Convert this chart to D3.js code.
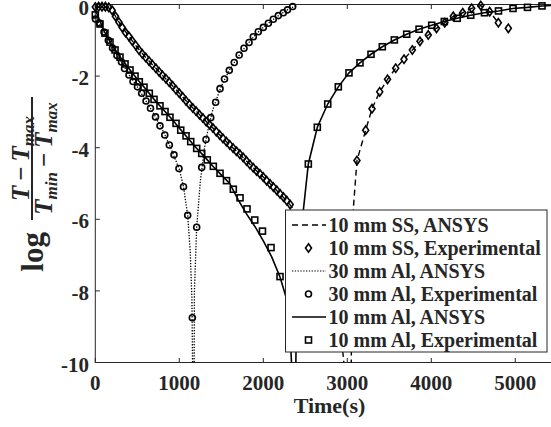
<!DOCTYPE html>
<html>
<head>
<meta charset="utf-8">
<script src="https://cdn.jsdelivr.net/npm/d3@7"></script>
<style>
  html, body { margin: 0; padding: 0; background: #fff; }
  svg { display: block; }
  text { font-family: "Liberation Serif", "Times New Roman", serif; font-weight: bold; fill: #262626; }
</style>
</head>
<body>
<svg id="chart" width="551" height="427"></svg>
<script>
// ---------------- DATA ----------------
const xTickVals = [0, 1000, 2000, 3000, 4000, 5000];
const yTickVals = [0, -2, -4, -6, -8, -10];
const xLabel = "Time(s)";
const legendLabels = [
  "10 mm SS, ANSYS",
  "10 mm SS, Experimental",
  "30 mm Al, ANSYS",
  "30 mm Al, Experimental",
  "10 mm Al, ANSYS",
  "10 mm Al, Experimental"
];

// 10 mm SS experimental (diamonds) [time s, value]
const ssExp = [
  [0,-0.07],[40,-0.06],[80,-0.06],[120,-0.06],[160,-0.08],[200,-0.16],[240,-0.33],[280,-0.49],
  [320,-0.64],[360,-0.78],[400,-0.89],[440,-1.02],[480,-1.14],[520,-1.27],[560,-1.38],[600,-1.48],
  [640,-1.58],[680,-1.68],[720,-1.78],[760,-1.88],[800,-1.98],[840,-2.07],[880,-2.17],[920,-2.27],
  [960,-2.38],[1000,-2.48],[1040,-2.58],[1080,-2.69],[1120,-2.79],[1160,-2.89],[1200,-2.98],[1240,-3.08],
  [1280,-3.17],[1320,-3.27],[1360,-3.36],[1400,-3.45],[1440,-3.55],[1480,-3.64],[1520,-3.74],[1560,-3.83],
  [1600,-3.92],[1640,-4.01],[1680,-4.10],[1720,-4.18],[1760,-4.27],[1800,-4.37],[1840,-4.47],[1880,-4.56],
  [1920,-4.65],[1960,-4.73],[2000,-4.82],[2040,-4.92],[2080,-5.01],[2120,-5.10],[2160,-5.19],[2200,-5.29],
  [2240,-5.38],[2280,-5.48],[2320,-5.59],
  [3115,-4.36],[3219,-3.51],[3294,-2.91],[3386,-2.44],[3479,-2.09],[3576,-1.78],[3675,-1.53],[3774,-1.27],
  [3865,-1.03],[3964,-0.85],[4062,-0.665],[4160,-0.51],[4262,-0.33],[4374,-0.23],[4481,-0.106],[4589,-0.03],
  [4695,-0.20],[4798,-0.51],[4917,-0.665]
];

// 10 mm SS ANSYS (dashed)
const ssAnsys = [
  [0,-0.07],[150,-0.08],[200,-0.16],[250,-0.37],[300,-0.56],[400,-0.89],[500,-1.20],[600,-1.48],
  [700,-1.73],[800,-1.98],[900,-2.22],[1000,-2.48],[1100,-2.74],[1200,-2.98],[1300,-3.22],[1400,-3.45],
  [1500,-3.69],[1600,-3.92],[1700,-4.14],[1800,-4.37],[1900,-4.60],[2000,-4.82],[2100,-5.05],[2200,-5.29],
  [2300,-5.54],[2400,-5.85],[2500,-6.2],[2600,-6.6],[2700,-7.1],[2800,-7.7],[2900,-8.6],[2980,-10.5],
  [3045,-10.5],[3060,-7.0],[3073,-5.66],[3115,-4.36],[3219,-3.51],[3294,-2.91],[3386,-2.44],[3479,-2.09],
  [3576,-1.78],[3675,-1.53],[3774,-1.27],[3865,-1.03],[3964,-0.85],[4062,-0.665],[4160,-0.51],[4262,-0.33],
  [4374,-0.23],[4481,-0.106],[4589,-0.03],[4695,-0.20],[4798,-0.51]
];

// 30 mm Al experimental (circles)
const al30Exp = [
  [2,-0.405],[50,-0.517],[104,-0.768],[155,-1.0],[205,-1.215],[258,-1.425],[312,-1.606],[348,-1.788],
  [401,-1.97],[449,-2.15],[502,-2.30],[552,-2.48],[604,-2.695],[657,-2.90],[717,-3.14],[770,-3.39],
  [827,-3.645],[881,-3.925],[937,-4.20],[996,-4.58],[1050,-5.09],[1100,-5.89],[1155,-8.75],
  [1207,-6.22],[1267,-4.55],[1318,-3.77],[1374,-3.16],[1433,-2.73],[1485,-2.35],[1538,-2.08],[1595,-1.84],
  [1654,-1.62],[1713,-1.41],[1770,-1.22],[1830,-1.06],[1881,-0.90],[1940,-0.76],[2000,-0.64],[2060,-0.525],
  [2119,-0.41],[2179,-0.31],[2238,-0.23],[2288,-0.15],[2350,-0.056]
];

// 30 mm Al ANSYS (dotted)
const al30Ansys = [
  [0,-0.35],[100,-0.75],[200,-1.19],[300,-1.56],[400,-1.96],[500,-2.30],[600,-2.68],[700,-3.07],
  [800,-3.50],[900,-4.02],[1000,-4.60],[1050,-5.09],[1100,-5.89],[1130,-6.9],[1150,-8.2],[1160,-10.5],
  [1176,-10.5],[1180,-8.0],[1207,-6.22],[1250,-4.95],[1300,-4.0],[1350,-3.40],[1400,-2.93],[1500,-2.28],
  [1600,-1.82],[1700,-1.46],[1800,-1.14],[1900,-0.86],[2000,-0.64],[2100,-0.45],[2200,-0.28],[2300,-0.13],
  [2400,-0.02]
];

// 10 mm Al experimental (squares)
const al10Exp = [
  [0,-0.29],[56,-0.545],[115,-0.80],[175,-1.05],[235,-1.27],[294,-1.47],[354,-1.66],[413,-1.83],
  [473,-2.0],[524,-2.16],[580,-2.31],[643,-2.48],[699,-2.65],[770,-2.83],[830,-2.99],[889,-3.15],
  [961,-3.32],[1017,-3.51],[1080,-3.67],[1136,-3.83],[1207,-4.02],[1267,-4.16],[1333,-4.34],[1405,-4.52],
  [1485,-4.715],[1562,-4.92],[1643,-5.16],[1723,-5.40],[1806,-5.71],[1898,-6.02],[1990,-6.33],[2092,-6.79],
  [2199,-7.60],
  [2536,-4.455],[2643,-3.43],[2767,-2.78],[2893,-2.30],[3020,-1.91],[3151,-1.63],[3282,-1.39],[3417,-1.18],
  [3560,-0.99],[3707,-0.83],[3854,-0.69],[4005,-0.58],[4155,-0.475],[4308,-0.385],[4469,-0.30],[4633,-0.23],
  [4800,-0.18],[4973,-0.11],[5145,-0.08],[5318,-0.04]
];

// 10 mm Al ANSYS (solid)
const al10Ansys = [
  [0,-0.15],[100,-0.72],[200,-1.14],[300,-1.48],[400,-1.79],[500,-2.09],[600,-2.36],[700,-2.65],
  [800,-2.91],[900,-3.17],[1000,-3.45],[1100,-3.73],[1200,-4.0],[1300,-4.25],[1400,-4.52],[1500,-4.76],
  [1600,-5.0],[1700,-5.45],[1800,-5.85],[1900,-6.20],[2000,-6.60],[2100,-7.05],[2200,-7.62],[2280,-8.25],
  [2320,-9.2],[2345,-10.5],[2385,-10.5],[2395,-8.6],[2420,-7.3],[2450,-6.4],[2477,-5.74],[2536,-4.455],
  [2643,-3.43],[2767,-2.78],[2893,-2.30],[3020,-1.91],[3151,-1.63],[3282,-1.39],[3417,-1.18],[3560,-0.99],
  [3707,-0.83],[3854,-0.69],[4005,-0.58],[4155,-0.475],[4308,-0.385],[4469,-0.30],[4633,-0.23],[4800,-0.18],
  [4973,-0.11],[5145,-0.08],[5318,-0.04],[5500,-0.02]
];

// ---------------- LAYOUT ----------------
const svg = d3.select("#chart");
const L = 95.3, T = 4.5, B = 362.5, R = 557.3;
const x = d3.scaleLinear().domain([0, 5500]).range([L, R]);
const y = d3.scaleLinear().domain([-10, 0]).range([B, T]);
const axisColor = "#262626";

svg.append("defs").append("clipPath").attr("id", "plotclip")
  .append("rect").attr("x", L).attr("y", T).attr("width", R - L).attr("height", B - T);

// axes box lines
svg.append("line").attr("x1", L).attr("x2", R).attr("y1", T).attr("y2", T).attr("stroke", axisColor).attr("stroke-width", 1);
svg.append("line").attr("x1", L).attr("x2", R).attr("y1", B).attr("y2", B).attr("stroke", axisColor).attr("stroke-width", 1);
svg.append("line").attr("x1", L).attr("x2", L).attr("y1", T).attr("y2", B).attr("stroke", axisColor).attr("stroke-width", 1);

// x ticks (inward, bottom and top)
const xt = svg.append("g");
xTickVals.forEach(v => {
  const px = x(v);
  xt.append("line").attr("x1", px).attr("x2", px).attr("y1", B).attr("y2", B - 4.5).attr("stroke", axisColor);
  xt.append("line").attr("x1", px).attr("x2", px).attr("y1", T).attr("y2", T + 4.5).attr("stroke", axisColor);
  xt.append("text").attr("x", px).attr("y", 389.5).attr("text-anchor", "middle")
    .attr("font-size", 21).text(String(v));
});
// y ticks
const yt = svg.append("g");
yTickVals.forEach(v => {
  const py = y(v);
  yt.append("line").attr("x1", L).attr("x2", L + 4.5).attr("y1", py).attr("y2", py).attr("stroke", axisColor);
  yt.append("text").attr("x", 89).attr("y", Math.max(py + 9, 15.3))
    .attr("text-anchor", "end")
    .attr("font-size", 21).text(String(v));
});

// x label
svg.append("text").attr("x", 329.5).attr("y", 413).attr("text-anchor", "middle")
  .attr("font-size", 22).text(xLabel);

// y label: log (T - Tmax)/(Tmin - Tmax)
const yl = svg.append("g").attr("transform", "translate(32,183) rotate(-90)");
yl.append("text").attr("x", -49).attr("y", 11).attr("text-anchor", "end")
  .attr("font-size", 31).text("log");
yl.append("line").attr("x1", -37).attr("x2", 86).attr("y1", 0).attr("y2", 0)
  .attr("stroke", "#262626").attr("stroke-width", 2);
const num = yl.append("text").attr("x", 24.5).attr("y", -3).attr("text-anchor", "middle")
  .attr("font-size", 25).attr("font-style", "italic");
num.append("tspan").text("T");
num.append("tspan").attr("font-style", "normal").text("\u2009\u2212\u2009");
num.append("tspan").text("T");
num.append("tspan").attr("font-size", 17).attr("dy", 5).text("max");
const den = yl.append("text").attr("x", 24.5).attr("y", 20).attr("text-anchor", "middle")
  .attr("font-size", 25).attr("font-style", "italic");
den.append("tspan").text("T");
den.append("tspan").attr("font-size", 17).attr("dy", 5).text("min");
den.append("tspan").attr("font-style", "normal").attr("dy", -5).text("\u2009\u2212\u2009");
den.append("tspan").text("T");
den.append("tspan").attr("font-size", 17).attr("dy", 5).text("max");

// ---------------- SERIES ----------------
const lineGen = d3.line().x(d => x(d[0])).y(d => y(d[1]));
const plot = svg.append("g");
const linesG = plot.append("g").attr("clip-path", "url(#plotclip)");

function drawLine(data, dash, w) {
  linesG.append("path").datum(data).attr("d", lineGen)
    .attr("fill", "none").attr("stroke", "#000").attr("stroke-width", w)
    .attr("stroke-dasharray", dash);
}
const diamondPath = "M0,-4.2L3,0L0,4.2L-3,0Z";
function addMarker(g, kind, px, py) {
  const sw = 1.6;
  if (kind === "circle") {
    g.append("circle").attr("cx", px).attr("cy", py).attr("r", 3)
      .attr("fill", "none").attr("stroke", "#000").attr("stroke-width", sw);
  } else if (kind === "square") {
    g.append("rect").attr("x", px - 3).attr("y", py - 3).attr("width", 6).attr("height", 6)
      .attr("fill", "none").attr("stroke", "#000").attr("stroke-width", sw);
  } else {
    g.append("path").attr("d", diamondPath).attr("transform", `translate(${px},${py})`)
      .attr("fill", "none").attr("stroke", "#000").attr("stroke-width", sw);
  }
}
function drawMarkers(data, kind) {
  const g = plot.append("g");
  data.forEach(d => addMarker(g, kind, x(d[0]), y(d[1])));
}

drawLine(ssAnsys, "6,4", 1.4);
drawMarkers(ssExp, "diamond");
drawLine(al30Ansys, "1.3,1.5", 1.3);
drawMarkers(al30Exp, "circle");
drawLine(al10Ansys, null, 1.6);
drawMarkers(al10Exp, "square");

// ---------------- LEGEND ----------------
const lg = svg.append("g");
lg.append("rect").attr("x", 285.5).attr("y", 210).attr("width", 261.5).attr("height", 142)
  .attr("fill", "#fff").attr("stroke", axisColor).attr("stroke-width", 1);
const legendStyle = [
  {line: "6,4"}, {marker: "diamond"}, {line: "1.3,1.5"}, {marker: "circle"}, {line: "none"}, {marker: "square"}
];
legendLabels.forEach((lab, i) => {
  const cy = 225 + i * 23;
  const st = legendStyle[i];
  if (st.line !== undefined) {
    lg.append("line").attr("x1", 292).attr("x2", 326).attr("y1", cy).attr("y2", cy)
      .attr("stroke", "#000").attr("stroke-width", st.line === "1.3,1.5" ? 1.2 : 1.5)
      .attr("stroke-dasharray", st.line === "none" ? null : st.line);
  } else {
    addMarker(lg, st.marker, 308.5, cy);
  }
  lg.append("text").attr("x", 328.5).attr("y", cy).attr("dominant-baseline", "central")
    .attr("font-size", 20).text(lab);
});
</script>
</body>
</html>
